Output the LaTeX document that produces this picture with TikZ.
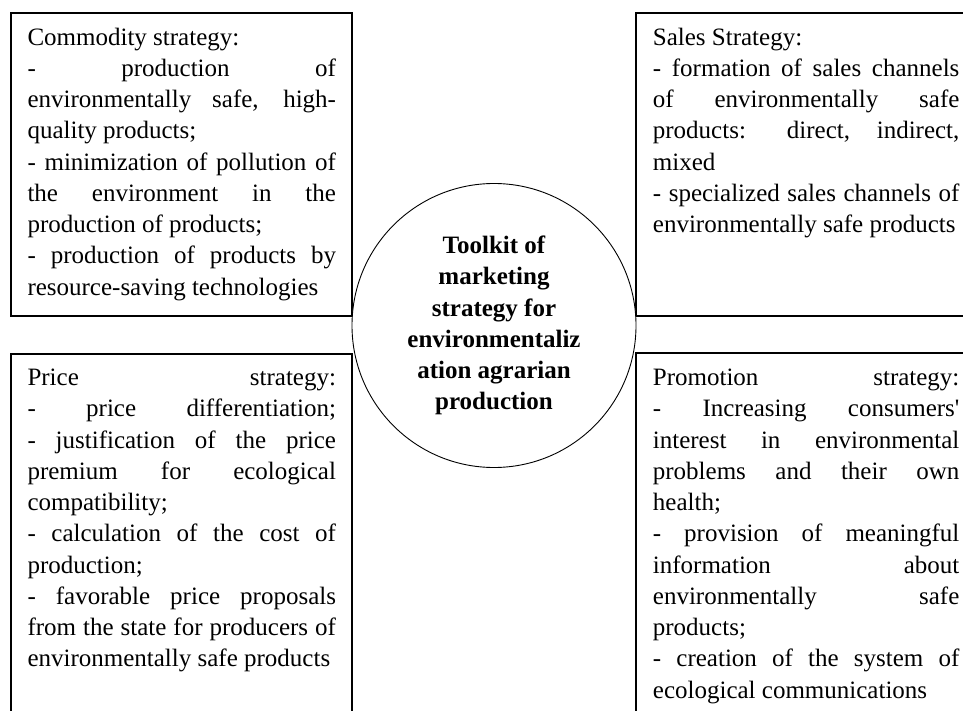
\documentclass[tikz,border=0pt]{standalone}
\usepackage{fontspec}
\setmainfont{Liberation Serif}
\usepackage{tikz}
\setlength{\parindent}{0pt}
\tolerance=10000

\begin{document}
\begin{tikzpicture}[x=1pt, y=-1pt]
\tikzset{
  boxline/.style={draw, line width=1.2pt},
  strategy/.style={anchor=north west, inner sep=0pt, text width=#1,
    align=justify, font=\fontsize{25}{31.25}\selectfont},
  toolkit/.style={circle, draw, fill=white, line width=0.9pt,
    minimum size=284pt, inner sep=0pt, align=center,
    font=\fontsize{25}{31.25}\selectfont\bfseries}
}

\useasboundingbox (0,0) rectangle (963,711);
\clip (0,0) rectangle (963,711);

\draw[boxline] (11,13) rectangle (352,316);
\draw[boxline] (636,13) rectangle (977,316);
\draw[boxline] (11,354) rectangle (352,730);
\draw[boxline] (636,353) rectangle (977,730);

\node[strategy=308.5pt] (commodity) at (27.3,23.1) {\strut Commodity strategy:\par
- production of\linebreak
environmentally safe, high-\linebreak
quality products;\par
- minimization of pollution of\linebreak
the environment in the\linebreak
production of products;\par
- production of products by\linebreak
resource-saving technologies};

\node[strategy=306.5pt] (sales) at (652.7,23.1) {\strut Sales Strategy:\par
- formation of sales channels\linebreak
of environmentally safe\linebreak
products: direct, indirect,\linebreak
mixed\par
- specialized sales channels of\linebreak
environmentally safe products};

\node[strategy=308.5pt] (price) at (27.3,363.6) {\strut Price strategy:\linebreak
- price differentiation;\linebreak
- justification of the price\linebreak
premium for ecological\linebreak
compatibility;\par
- calculation of the cost of\linebreak
production;\par
- favorable price proposals\linebreak
from the state for producers of\linebreak
environmentally safe products};

\node[strategy=306.5pt] (promotion) at (652.7,363.6) {\strut Promotion strategy:\linebreak
- Increasing consumers\textquotesingle\linebreak
interest in environmental\linebreak
problems and their own\linebreak
health;\par
- provision of meaningful\linebreak
information about\linebreak
environmentally safe\linebreak
products;\par
- creation of the system of\linebreak
ecological communications};

\node[toolkit] (hub) at (494,325.5) {Toolkit of\\ marketing\\ strategy for\\
  environmentaliz\\ ation agrarian\\ production};

\end{tikzpicture}
\end{document}
